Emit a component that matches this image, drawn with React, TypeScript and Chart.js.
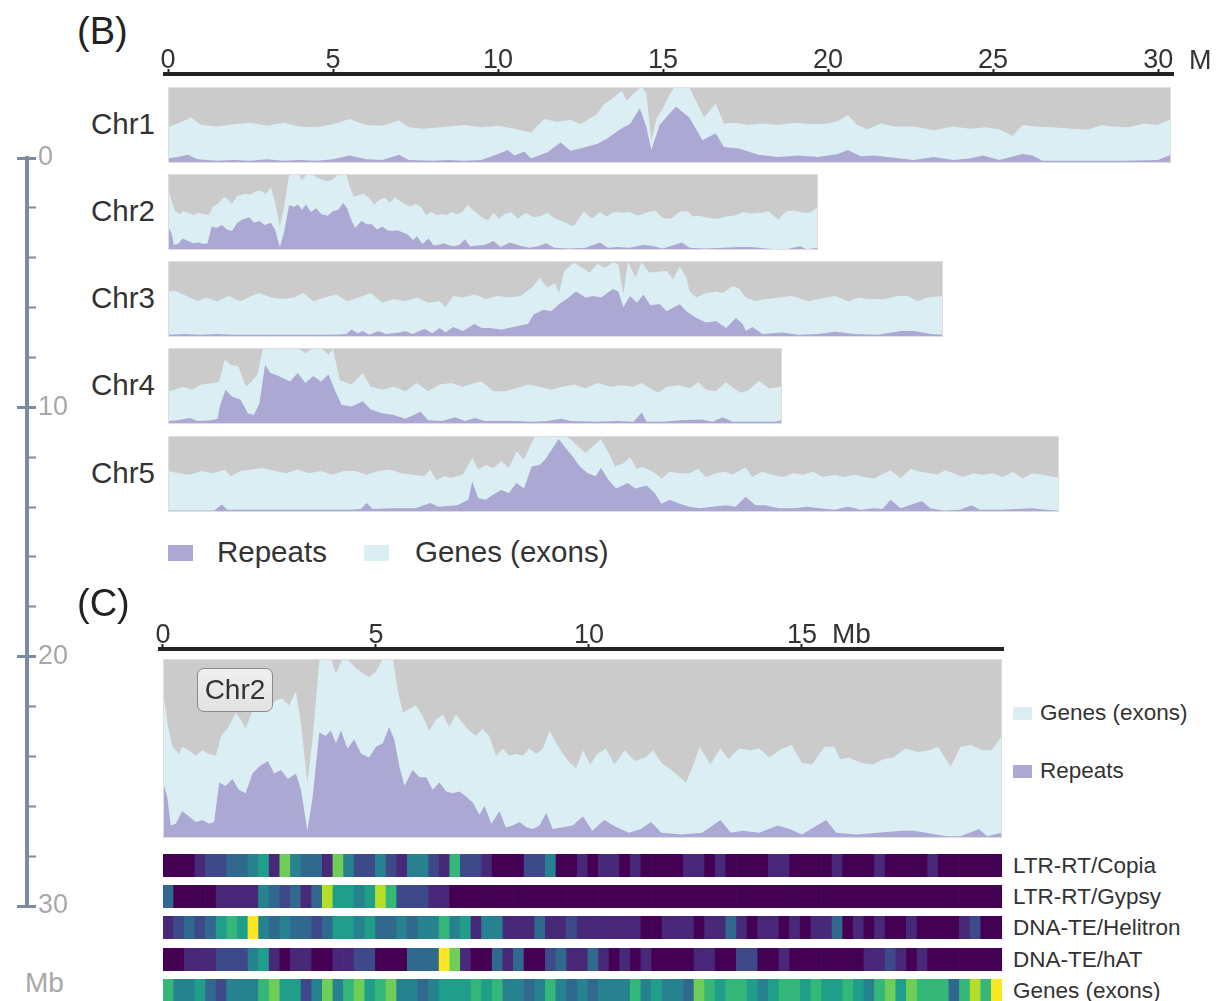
import React, { useEffect, useRef } from "react";
import { Chart, registerables } from "chart.js";
Chart.register(...registerables);

const FONT = '"Liberation Sans", Arial, Helvetica, sans-serif';
const GRAY = "#cbcbcb";
const GENE = "#daeef3";
const REP = "#aba9d4";
const AXIS_DARK = "#222222";
const AXIS_SLATE = "#7b8ca0";

// ---------------- DATA ----------------
const chromNames = ["Chr1", "Chr2", "Chr3", "Chr4", "Chr5"];
const chromLengths = [30.4, 19.7, 23.47, 18.6, 27.0];
const bTicks = [0, 5, 10, 15, 20, 25, 30];
const cTicks = [0, 5, 10, 15];
const mbAxisTicks = [0, 2, 4, 6, 8, 10, 12, 14, 16, 18, 20, 22, 24, 26, 28, 30];
const mbAxisLabels = [0, 10, 20, 30];

// [position Mb, % of track height]
const chr1Genes = [[0,47],[0.3,52],[0.7,60],[1.0,50],[1.5,48],[2.0,51],[2.5,53],[3.0,49],[3.5,53],[4.0,48],[4.5,47],[5.0,51],[5.5,58],[6.0,50],[6.5,49],[7.0,56],[7.3,47],[7.7,45],[8.0,46],[8.5,48],[9.0,50],[9.5,47],[10.0,49],[10.5,45],[11.0,40],[11.4,58],[11.8,54],[12.2,57],[12.5,51],[13.0,64],[13.2,77],[13.5,86],[13.75,95],[13.9,82],[14.15,93],[14.35,100],[14.5,92],[14.65,30],[14.8,58],[15.0,72],[15.2,90],[15.35,100],[15.8,100],[16.0,82],[16.25,60],[16.6,78],[16.85,52],[17.2,53],[17.6,50],[18.0,52],[18.5,50],[19.0,53],[19.5,51],[20.0,52],[20.3,55],[20.6,63],[20.9,50],[21.2,44],[21.6,52],[22.0,48],[22.6,48],[23.2,43],[23.8,48],[24.3,45],[24.8,47],[25.2,44],[25.6,36],[25.9,50],[26.3,48],[26.8,47],[27.4,45],[27.9,44],[28.3,50],[28.6,48],[29.1,47],[29.6,52],[30.0,50],[30.4,58]];
const chr1Repeats = [[0,6],[0.3,8],[0.6,11],[0.9,5],[1.5,3],[2.0,4],[2.5,3],[3.0,5],[3.5,3],[4.0,4],[4.5,3],[5.0,5],[5.5,10],[6.0,5],[6.5,4],[7.0,11],[7.3,4],[8.0,3],[8.5,4],[9.0,3],[9.5,4],[10.0,12],[10.3,17],[10.5,10],[10.8,15],[11.0,6],[11.5,14],[11.9,27],[12.2,16],[12.5,19],[13.0,25],[13.3,32],[13.5,38],[13.8,47],[14.0,51],[14.3,72],[14.5,47],[14.65,17],[14.9,50],[15.2,65],[15.4,74],[15.8,60],[16.2,30],[16.6,39],[16.85,21],[17.3,19],[17.9,11],[18.5,8],[19.1,10],[19.7,8],[20.3,12],[20.6,17],[21.0,9],[21.4,10],[22.0,7],[22.6,4],[23.2,8],[23.8,4],[24.3,6],[24.7,10],[25.2,4],[25.9,12],[26.2,10],[26.5,3],[27.0,3],[28.0,3],[29.0,3],[30.0,4],[30.4,11]];

const chr2Genes = [[0,83],[0.1,65],[0.22,51],[0.38,47],[0.45,51],[0.61,49],[0.77,46],[0.92,49],[1.08,47],[1.24,46],[1.36,57],[1.51,61],[1.71,70],[1.83,66],[1.94,61],[2.1,71],[2.34,74],[2.49,73],[2.65,77],[2.8,78],[2.96,74],[3.12,82],[3.24,64],[3.39,31],[3.51,55],[3.67,99],[3.8,100],[3.95,100],[4.06,92],[4.22,100],[4.37,99],[4.53,95],[4.69,92],[4.84,90],[5.0,93],[5.16,100],[5.4,100],[5.51,83],[5.63,70],[5.78,72],[5.94,74],[6.1,68],[6.25,60],[6.41,66],[6.57,69],[6.72,62],[6.88,69],[7.04,64],[7.19,60],[7.35,57],[7.5,61],[7.66,57],[7.82,46],[7.98,50],[8.13,46],[8.29,47],[8.45,46],[8.6,50],[8.76,47],[8.92,50],[9.08,60],[9.23,53],[9.39,47],[9.55,42],[9.7,39],[9.86,49],[10.03,41],[10.2,47],[10.4,50],[10.6,41],[10.84,49],[11.08,43],[11.32,45],[11.51,49],[11.7,42],[11.94,38],[12.28,31],[12.47,42],[12.6,51],[12.85,41],[13.09,50],[13.28,44],[13.52,50],[13.8,49],[14.0,50],[14.24,45],[14.47,49],[14.76,52],[15.0,42],[15.24,41],[15.53,51],[15.76,51],[15.9,44],[16.1,45],[16.39,42],[16.67,41],[16.91,44],[17.15,45],[17.44,50],[17.72,48],[18.0,49],[18.2,51],[18.49,40],[18.73,51],[18.97,52],[19.25,49],[19.45,49],[19.7,57]];
const chr2Repeats = [[0,31],[0.1,23],[0.18,7],[0.3,8],[0.45,15],[0.61,12],[0.77,9],[0.92,10],[1.08,8],[1.2,9],[1.32,31],[1.47,29],[1.63,33],[1.78,27],[1.94,25],[2.1,36],[2.26,40],[2.46,43],[2.61,36],[2.77,38],[2.93,33],[3.12,36],[3.24,27],[3.39,4],[3.51,22],[3.67,59],[3.82,57],[3.94,60],[4.06,53],[4.18,60],[4.33,50],[4.49,55],[4.65,47],[4.84,45],[5.0,51],[5.16,53],[5.31,62],[5.43,55],[5.55,40],[5.67,29],[5.86,38],[6.02,34],[6.18,34],[6.33,27],[6.49,31],[6.65,26],[6.8,25],[6.96,26],[7.12,23],[7.27,20],[7.43,13],[7.55,18],[7.71,8],[7.9,15],[8.05,6],[8.21,7],[8.37,9],[8.53,6],[8.68,5],[8.84,7],[9.0,14],[9.15,5],[9.39,6],[9.62,7],[9.86,12],[10.08,4],[10.36,10],[10.65,6],[10.94,3],[11.22,5],[11.46,9],[11.7,3],[12.18,2],[12.66,3],[13.09,10],[13.33,3],[13.61,4],[14.0,3],[14.43,7],[14.71,5],[15.0,2],[15.57,10],[15.81,3],[16.29,2],[17.34,4],[17.63,4],[17.91,3],[18.4,1],[18.73,1],[19.16,5],[19.35,1],[19.7,3]];

const chr3Genes = [[0,60],[0.2,61],[0.56,54],[0.9,47],[1.14,52],[1.49,47],[1.84,54],[2.19,47],[2.53,54],[2.77,58],[3.12,52],[3.47,50],[3.81,52],[4.1,58],[4.4,47],[4.74,52],[5.09,56],[5.44,47],[5.9,54],[6.14,58],[6.49,45],[6.84,50],[7.19,47],[7.53,52],[7.88,45],[8.23,47],[8.4,39],[8.64,54],[8.93,52],[9.28,56],[9.63,50],[9.98,54],[10.33,52],[10.67,54],[11.02,65],[11.26,78],[11.49,65],[11.72,71],[11.84,58],[12.0,87],[12.3,98],[12.53,91],[12.77,85],[13.0,96],[13.23,91],[13.47,98],[13.64,96],[13.79,56],[13.93,99],[14.16,78],[14.34,98],[14.57,85],[14.8,86],[15.1,87],[15.3,76],[15.5,93],[15.7,78],[15.8,60],[16.0,52],[16.3,58],[16.6,60],[16.8,58],[17.1,67],[17.3,63],[17.5,52],[17.8,47],[18.1,50],[18.5,52],[18.9,54],[19.4,47],[19.7,50],[20.2,54],[20.6,47],[20.9,52],[21.2,50],[21.7,50],[22.1,54],[22.4,54],[22.7,47],[23.0,52],[23.47,54]];
const chr3Repeats = [[0,3],[0.5,4],[1.0,3],[1.5,4],[2.0,3],[3.0,3],[4.0,3],[5.0,3],[5.4,4],[5.56,10],[5.75,5],[5.9,8],[6.1,3],[6.37,8],[6.6,4],[7.0,6],[7.19,8],[7.4,4],[7.77,11],[8.0,5],[8.23,12],[8.4,6],[8.64,13],[8.93,8],[9.28,17],[9.5,12],[9.74,12],[10.1,10],[10.56,14],[10.9,17],[11.08,30],[11.37,36],[11.6,34],[11.84,43],[12.07,50],[12.36,60],[12.65,52],[12.88,54],[13.12,52],[13.47,63],[13.64,60],[13.79,39],[13.99,54],[14.2,45],[14.4,56],[14.6,42],[14.9,43],[15.1,34],[15.5,43],[15.7,34],[16.0,25],[16.3,19],[16.6,21],[16.9,12],[17.2,25],[17.4,17],[17.5,8],[17.7,13],[18.0,4],[18.6,6],[19.1,3],[19.7,4],[20.2,7],[20.8,4],[21.5,3],[22.2,8],[22.6,8],[23.1,4],[23.47,3]];

const chr4Genes = [[0,43],[0.2,45],[0.44,49],[0.73,45],[1.02,52],[1.37,54],[1.55,56],[1.72,85],[1.9,78],[2.13,76],[2.36,49],[2.53,56],[2.71,65],[2.88,100],[3.5,100],[4.0,98],[4.16,93],[4.4,100],[4.7,98],[4.86,91],[5.0,99],[5.2,58],[5.56,52],[5.9,67],[6.14,49],[6.49,45],[6.84,49],[7.19,43],[7.53,54],[7.88,43],[8.23,52],[8.58,54],[8.93,49],[9.28,54],[9.5,56],[9.86,43],[10.2,43],[10.56,47],[10.9,52],[11.26,49],[11.6,45],[11.95,49],[12.3,52],[12.65,47],[13.0,54],[13.4,49],[13.7,51],[14.1,49],[14.35,54],[14.6,47],[14.85,41],[15.1,49],[15.5,51],[15.8,47],[16.07,55],[16.3,45],[16.6,43],[16.9,55],[17.2,45],[17.35,41],[17.6,45],[17.9,57],[18.2,47],[18.6,49]];
const chr4Repeats = [[0,4],[0.3,5],[0.65,8],[0.9,4],[1.3,5],[1.5,7],[1.57,23],[1.74,45],[1.95,36],[2.2,32],[2.42,14],[2.6,12],[2.77,27],[2.94,78],[3.1,67],[3.35,63],[3.7,56],[3.93,67],[4.16,54],[4.4,63],[4.63,56],[4.86,65],[5.09,41],[5.26,25],[5.56,23],[5.9,30],[6.14,19],[6.49,14],[6.84,12],[7.19,7],[7.65,16],[7.88,5],[8.3,4],[8.7,9],[9.0,4],[9.3,8],[9.6,4],[10.5,4],[11.0,3],[11.5,4],[11.9,7],[12.2,4],[13.0,3],[13.6,4],[14.1,3],[14.35,15],[14.5,3],[15.0,3],[15.5,5],[16.17,6],[16.5,3],[16.8,9],[17.1,3],[18.0,3],[18.4,3],[18.6,5]];

const chr5Genes = [[0,54],[0.33,51],[0.67,49],[1.02,54],[1.37,51],[1.72,56],[1.9,47],[2.19,54],[2.53,56],[2.88,58],[3.23,54],[3.58,51],[3.93,56],[4.28,51],[4.63,54],[4.98,49],[5.33,54],[5.67,54],[6.02,49],[6.37,54],[6.72,56],[7.07,51],[7.42,49],[7.77,47],[7.94,56],[8.14,42],[8.37,47],[8.58,45],[8.93,49],[9.22,71],[9.4,56],[9.63,62],[9.86,58],[10.1,67],[10.33,58],[10.56,80],[10.79,69],[11.02,91],[11.14,100],[12.07,100],[12.19,96],[12.42,87],[12.65,78],[12.88,87],[13.12,96],[13.35,78],[13.55,60],[13.8,64],[14.0,72],[14.2,57],[14.4,59],[14.7,53],[14.96,44],[15.2,53],[15.5,51],[15.8,51],[16.07,57],[16.3,46],[16.6,51],[16.9,53],[17.1,49],[17.5,59],[17.7,46],[18.0,53],[18.3,49],[18.65,46],[18.95,51],[19.25,49],[19.55,53],[19.85,46],[20.2,49],[20.5,46],[20.8,49],[21.1,46],[21.4,44],[21.7,51],[21.9,55],[22.2,44],[22.5,57],[22.8,53],[23.1,51],[23.3,49],[23.55,55],[23.8,51],[24.1,46],[24.4,51],[24.7,49],[25.0,51],[25.3,46],[25.6,53],[25.9,44],[26.2,51],[26.5,49],[26.83,46],[27.0,46]];
const chr5Repeats = [[0,2],[1.4,2],[1.63,10],[1.8,3],[2.5,3],[3.5,3],[4.5,3],[5.5,3],[5.85,4],[6.02,12],[6.2,4],[6.8,5],[7.5,5],[7.94,12],[8.2,7],[8.76,9],[9.1,16],[9.22,40],[9.4,18],[9.63,16],[9.86,23],[10.1,29],[10.33,25],[10.56,38],[10.79,31],[11.02,60],[11.26,62],[11.43,69],[11.67,85],[11.84,96],[12.0,87],[12.26,73],[12.48,60],[12.72,51],[12.96,47],[13.12,58],[13.35,42],[13.58,31],[13.93,38],[14.16,31],[14.5,35],[14.75,25],[14.95,11],[15.2,16],[15.5,11],[15.8,7],[16.1,5],[16.5,7],[16.9,9],[17.2,7],[17.5,20],[17.8,9],[18.1,9],[18.5,5],[19.0,5],[19.35,7],[19.75,5],[20.2,3],[20.6,7],[21.0,3],[21.4,5],[21.65,4],[21.9,16],[22.2,5],[22.6,11],[22.85,14],[23.1,5],[23.5,2],[24.0,3],[24.35,9],[24.6,3],[25.2,3],[25.7,4],[26.2,5],[26.6,3],[27.0,2]];

// heatmap rows (Chr2, 0.25 Mb bins, density level 0-9)
const heatLabels = ["LTR-RT/Copia", "LTR-RT/Gypsy", "DNA-TE/Helitron", "DNA-TE/hAT", "Genes (exons)"];
const copiaHeat = [0,0,0,1,2,2,3,3,4,5, 1,7,4,3,3,1,7,4,2,2, 4,2,1,4,4,2,1,6,2,2, 1,0,0,0,2,2,4,0,0,1, 0,1,1,0,1,0,0,0,0,1, 1,0,1,0,0,0,0,1,1,0, 0,0,0,1,0,0,0,1,0,0, 0,0,1,0,0,0,0,0,0];
const gypsyHeat = [3,0,0,0,0,1,1,1,1,4, 3,2,3,1,3,8,5,5,4,5, 8,6,2,2,2,1,1,0,0,0, 0,0,0,0,0,0,0,0,0,0, 0,0,0,0,0,0,0,0,0,0, 0,0,0,0,0,0,0,0,0,0, 0,0,0,0,0,0,0,0,0,0, 0,0,0,0,0,0,0,0,0];
const helitronHeat = [1,2,3,2,3,5,6,5,9,4, 3,4,3,3,2,3,5,5,4,5, 3,3,4,3,4,4,6,4,5,1, 4,4,1,1,1,3,1,1,2,1, 1,1,1,1,1,0,0,1,1,1, 0,1,1,3,1,0,1,1,0,1, 0,1,1,3,0,1,0,1,0,0, 1,0,0,0,0,1,2,0,0];
const hatHeat = [0,0,1,1,1,2,2,2,4,5, 1,0,1,1,0,0,1,1,2,2, 0,0,0,3,3,3,9,7,1,0, 0,3,1,3,0,0,2,3,1,1, 3,1,0,1,0,1,0,0,0,0, 1,1,0,0,2,2,0,0,1,0, 0,0,0,0,0,0,1,1,2,1, 0,1,0,0,0,0,0,0,0];
const genesHeat = [6,4,4,5,3,2,4,4,4,6, 7,5,5,2,4,7,4,6,7,5, 6,7,4,4,3,4,5,5,5,6, 5,6,4,4,3,4,6,4,3,4, 3,4,4,4,6,4,5,4,4,3, 7,6,5,6,6,5,4,5,6,6, 5,6,5,5,6,5,4,6,7,5, 7,6,6,6,3,6,8,6,9];
const heatBinMb = [0,0.25,0.5,0.75,1,1.25,1.5,1.75,2,2.25,2.5,2.75,3,3.25,3.5,3.75,4,4.25,4.5,4.75,5,5.25,5.5,5.75,6,6.25,6.5,6.75,7,7.25,7.5,7.75,8,8.25,8.5,8.75,9,9.25,9.5,9.75,10,10.25,10.5,10.75,11,11.25,11.5,11.75,12,12.25,12.5,12.75,13,13.25,13.5,13.75,14,14.25,14.5,14.75,15,15.25,15.5,15.75,16,16.25,16.5,16.75,17,17.25,17.5,17.75,18,18.25,18.5,18.75,19,19.25,19.5];

const VIRIDIS = ["#440154", "#482878", "#3e4989", "#31688e", "#26828e", "#1f9e89", "#35b779", "#6ece58", "#b5de2b", "#fde725"];

// ---------------- LAYOUT ----------------
const B_PX = 33.0; // px per Mb (panel B)
const C_PX = 42.6; // px per Mb (panel C)
const B_LEFT = 168;
const C_LEFT = 163;
const trackTops = [87, 174, 261, 348, 436];
const TRACK_H = 76;

const bgPlugin = {
  id: "bgfill",
  beforeDraw(chart: any) {
    const { ctx, chartArea: a } = chart;
    ctx.save();
    ctx.fillStyle = GRAY;
    ctx.fillRect(a.left, a.top, a.right - a.left, a.bottom - a.top);
    ctx.restore();
  },
  afterDraw(chart: any) {
    const { ctx, chartArea: a } = chart;
    ctx.save();
    ctx.strokeStyle = "#dedede";
    ctx.lineWidth = 1;
    ctx.strokeRect(a.left + 0.5, a.top + 0.5, a.right - a.left - 1, a.bottom - a.top - 1);
    ctx.restore();
  },
};

const baseOpts = {
  animation: false as const,
  responsive: false,
  events: [] as any[],
  plugins: { legend: { display: false }, tooltip: { enabled: false } },
};

function toXY(pts: number[][]) {
  return pts.map(([x, y]) => ({ x, y }));
}

function trackConfig(genes: number[][], reps: number[][], len: number): any {
  return {
    type: "line",
    data: {
      datasets: [
        { label: "Repeats", data: toXY(reps), fill: "origin", backgroundColor: REP, borderColor: "rgba(0,0,0,0)", borderWidth: 0, pointRadius: 0, order: 0 },
        { label: "Genes (exons)", data: toXY(genes), fill: "origin", backgroundColor: GENE, borderColor: "rgba(0,0,0,0)", borderWidth: 0, pointRadius: 0, order: 1 },
      ],
    },
    options: {
      ...baseOpts,
      layout: { padding: 0 },
      elements: { line: { tension: 0 } },
      scales: {
        x: { type: "linear", min: 0, max: len, display: false },
        y: { type: "linear", min: 0, max: 100, display: false },
      },
    },
    plugins: [bgPlugin],
  };
}

function topAxisConfig(ticks: number[], min: number, max: number): any {
  return {
    type: "line",
    data: { datasets: [] },
    options: {
      ...baseOpts,
      layout: { padding: { left: 30, right: 30, top: 0, bottom: 0 } },
      scales: {
        y: { display: false },
        x: {
          type: "linear",
          position: "top",
          min,
          max,
          afterBuildTicks: (s: any) => { s.ticks = ticks.map((v) => ({ value: v })); },
          afterFit: (s: any) => { s.height = 40; },
          border: { display: true, color: AXIS_DARK, width: 4 },
          grid: { drawOnChartArea: false, tickLength: 5, tickColor: AXIS_DARK, tickWidth: 2 },
          ticks: { color: "#333", font: { family: FONT, size: 27, lineHeight: 1 }, padding: -5, maxRotation: 0, autoSkip: false },
        },
      },
    },
  };
}

function leftAxisConfig(): any {
  return {
    type: "line",
    data: { datasets: [] },
    options: {
      ...baseOpts,
      layout: { padding: { left: 17, right: 0, top: 20, bottom: 20 } },
      scales: {
        x: { display: false },
        y: {
          type: "linear",
          position: "right",
          reverse: true,
          min: 0,
          max: 30,
          afterBuildTicks: (s: any) => { s.ticks = mbAxisTicks.map((v) => ({ value: v })); },
          afterFit: (s: any) => { s.width = 55; },
          border: { display: true, color: AXIS_SLATE, width: 4 },
          grid: {
            drawOnChartArea: true,
            color: (c: any) => (c.tick && mbAxisLabels.includes(c.tick.value) ? AXIS_SLATE : "rgba(0,0,0,0)"),
            lineWidth: 3,
            tickLength: 9,
            tickColor: AXIS_SLATE,
            tickWidth: (c: any) => (c.tick && mbAxisLabels.includes(c.tick.value) ? 3 : 2),
          },
          ticks: {
            callback: (v: any) => (mbAxisLabels.includes(v) ? String(v) : ""),
            color: "#a8a8a8",
            font: { family: FONT, size: 27, lineHeight: 1 },
            padding: 2,
            autoSkip: false,
          },
        },
      },
    },
  };
}

function heatConfig(levels: number[]): any {
  return {
    type: "bar",
    data: {
      labels: heatBinMb.map((m) => String(m)),
      datasets: [
        {
          data: levels.map(() => [0, 1]),
          backgroundColor: levels.map((v) => VIRIDIS[v]),
          borderWidth: 0,
          barPercentage: 1,
          categoryPercentage: 1,
        },
      ],
    },
    options: {
      ...baseOpts,
      layout: { padding: 0 },
      scales: {
        x: { display: false },
        y: { display: false, min: 0, max: 1 },
      },
    },
  };
}

function ChartBox({ left, top, width, height, config }: any) {
  const ref = useRef<HTMLCanvasElement>(null);
  useEffect(() => {
    const chart = new Chart(ref.current as HTMLCanvasElement, config);
    return () => chart.destroy();
  }, []);
  return (
    <canvas
      ref={ref}
      width={Math.round(width)}
      height={Math.round(height)}
      style={{ position: "absolute", left, top, width: Math.round(width), height: Math.round(height) }}
    />
  );
}

function Txt({ x, cy, size, color = "#333", align = "left", spacing, children }: any) {
  return (
    <div
      style={{
        position: "absolute",
        left: x,
        top: cy - size * 0.49,
        fontSize: size,
        lineHeight: `${size}px`,
        fontFamily: FONT,
        color,
        whiteSpace: "nowrap",
        letterSpacing: spacing,
        transform: align === "right" ? "translateX(-100%)" : undefined,
      }}
    >
      {children}
    </div>
  );
}

function Swatch({ x, y, w, h, color }: any) {
  return <div style={{ position: "absolute", left: x, top: y, width: w, height: h, background: color }} />;
}

export default function App() {
  const genesSets = [chr1Genes, chr2Genes, chr3Genes, chr4Genes, chr5Genes];
  const repSets = [chr1Repeats, chr2Repeats, chr3Repeats, chr4Repeats, chr5Repeats];
  const heatRows = [copiaHeat, gypsyHeat, helitronHeat, hatHeat, genesHeat];
  const heatTops = [854, 885, 916, 948, 979];

  const bMin = -3 / B_PX;
  const bMax = 30.45;
  const bAxisW = (bMax - bMin) * B_PX;
  const cMin = -3 / C_PX;
  const cMax = 19.72;
  const cAxisW = (cMax - cMin) * C_PX;

  return (
    <div style={{ position: "absolute", left: 0, top: 0, width: 1217, height: 1001, overflow: "hidden", background: "#fff" }}>
      {/* Left Mb scale */}
      <ChartBox left={0} top={138} width={82} height={788} config={leftAxisConfig()} />
      <Txt x={25} cy={983} size={28} color="#a8a8a8">Mb</Txt>

      {/* Panel B */}
      <Txt x={77} cy={31} size={38} color="#222">(B)</Txt>
      <ChartBox left={B_LEFT - 3 - 30} top={74 - 40} width={bAxisW + 60} height={46} config={topAxisConfig(bTicks, bMin, bMax)} />
      <Txt x={1189} cy={60} size={27} spacing={6}>Mb</Txt>
      {chromNames.map((name, i) => (
        <React.Fragment key={name}>
          <Txt x={155} cy={trackTops[i] + 36} size={29.5} align="right">{name}</Txt>
          <ChartBox
            left={B_LEFT}
            top={trackTops[i]}
            width={chromLengths[i] * B_PX}
            height={TRACK_H}
            config={trackConfig(genesSets[i], repSets[i], chromLengths[i])}
          />
        </React.Fragment>
      ))}
      <Swatch x={168} y={545} w={25} h={16} color={REP} />
      <Txt x={217} cy={551} size={29.5}>Repeats</Txt>
      <Swatch x={364} y={545} w={25} h={16} color={GENE} />
      <Txt x={415} cy={551} size={29.5}>Genes (exons)</Txt>

      {/* Panel C */}
      <Txt x={77} cy={603} size={38} color="#222">(C)</Txt>
      <ChartBox left={C_LEFT - 3 - 30} top={649 - 40} width={cAxisW + 60} height={46} config={topAxisConfig(cTicks, cMin, cMax)} />
      <Txt x={832} cy={634} size={28}>Mb</Txt>
      <ChartBox left={C_LEFT} top={659} width={chromLengths[1] * C_PX} height={179} config={trackConfig(chr2Genes, chr2Repeats, chromLengths[1])} />
      <div
        style={{
          position: "absolute",
          left: 197,
          top: 668,
          width: 74,
          height: 42,
          border: "1.5px solid #8a8a8a",
          borderRadius: 7,
          background: "linear-gradient(#f0f0f0, #e2e2e2)",
          fontFamily: FONT,
          fontSize: 28,
          lineHeight: "42px",
          textAlign: "center",
          color: "#333",
        }}
      >
        Chr2
      </div>
      <Swatch x={1013} y={707} w={19} h={13} color={GENE} />
      <Txt x={1040} cy={713} size={22.5}>Genes (exons)</Txt>
      <Swatch x={1013} y={765} w={19} h={13} color={REP} />
      <Txt x={1040} cy={771} size={22.5}>Repeats</Txt>

      {heatRows.map((row, i) => (
        <React.Fragment key={heatLabels[i]}>
          <ChartBox left={C_LEFT} top={heatTops[i]} width={chromLengths[1] * C_PX} height={23} config={heatConfig(row)} />
          <Txt x={1013} cy={heatTops[i] + 12} size={22.5}>{heatLabels[i]}</Txt>
        </React.Fragment>
      ))}
    </div>
  );
}
